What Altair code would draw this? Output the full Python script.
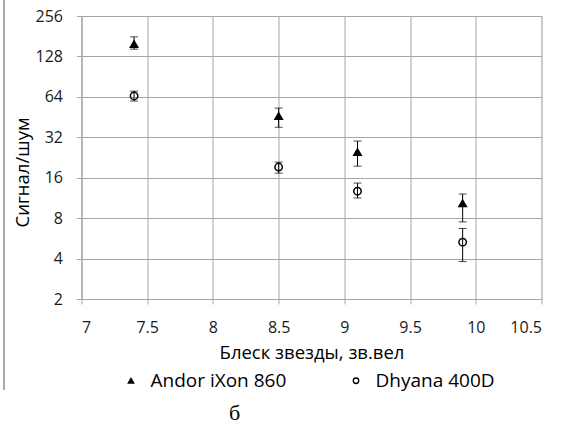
import altair as alt
import pandas as pd

# ---- data ----
series = ["Andor iXon 860", "Dhyana 400D"]
mag = [7.4, 8.5, 9.1, 9.9]
andor_snr = [158, 46, 24.8, 10.3]
andor_lo = [145, 38, 19.5, 7.5]
andor_hi = [179, 52.8, 30.0, 12.1]
dhyana_snr = [65, 19.2, 12.7, 5.3]
dhyana_lo = [59.6, 17.3, 11.3, 3.8]
dhyana_hi = [70.6, 20.9, 14.6, 6.7]
x_ticks = [7, 7.5, 8, 8.5, 9, 9.5, 10, 10.5]
y_ticks = [2, 4, 8, 16, 32, 64, 128, 256]
x_title = "Блеск звезды, зв.вел"
y_title = "Сигнал/шум"
caption = "б"

rows = []
for name, v, lo, hi in [(series[0], andor_snr, andor_lo, andor_hi),
                        (series[1], dhyana_snr, dhyana_lo, dhyana_hi)]:
    for m, a, b, c in zip(mag, v, lo, hi):
        rows.append({"series": name, "mag": m, "snr": a, "lo": b, "hi": c})
df = pd.DataFrame(rows)

FONT = "Open Sans"
TXT = "#1a1a1a"
GRID = "#a6a6a6"

xs = alt.Scale(domain=[7, 10.5], nice=False, zero=False)
ys = alt.Scale(type="log", base=2, domain=[2, 256], nice=False)


def legend():
    return alt.Legend(title=None, orient="none", direction="horizontal",
                      legendX=40, legendY=355, columnPadding=60,
                      labelFont=FONT, labelFontSize=19, labelColor="black",
                      symbolSize=30, symbolStrokeWidth=1.3, labelOffset=10)


base = alt.Chart(df)

points = base.mark_point(size=55, strokeWidth=1.5, opacity=1).encode(
    x=alt.X("mag:Q", scale=xs,
            axis=alt.Axis(values=x_ticks, format=".1~f", title=x_title,
                          grid=True, gridColor=GRID, domainColor=GRID,
                          tickColor=GRID, tickSize=5, labelPadding=15,
                          labelFontSize=16, labelColor=TXT, labelFont=FONT,
                          titleFont=FONT, titleFontSize=18.5, titleColor="black",
                          titleFontWeight="normal", titlePadding=8)),
    y=alt.Y("snr:Q", scale=ys,
            axis=alt.Axis(values=y_ticks, format="d", title=y_title,
                          grid=True, gridColor=GRID, domainColor=GRID,
                          tickColor=GRID, tickSize=5, labelPadding=14,
                          labelFontSize=16, labelColor=TXT, labelFont=FONT,
                          titleFont=FONT, titleFontSize=18.5, titleColor="black",
                          titleFontWeight="normal", titleX=-53, titleY=156,
                          titleBaseline="alphabetic", titleAlign="center", titleAngle=270)),
    shape=alt.Shape("series:N", scale=alt.Scale(domain=series, range=["triangle-up", "circle"]),
                    legend=legend()),
    fill=alt.Fill("series:N", scale=alt.Scale(domain=series, range=["black", "transparent"]),
                  legend=legend()),
    stroke=alt.Stroke("series:N", scale=alt.Scale(domain=series, range=["black", "black"]),
                      legend=legend()),
)

bars = base.mark_rule(color="black", strokeWidth=1).encode(
    x=alt.X("mag:Q", scale=xs), y=alt.Y("lo:Q", scale=ys), y2="hi:Q")
cap_lo = base.mark_tick(color="black", orient="horizontal", size=8, thickness=1).encode(
    x=alt.X("mag:Q", scale=xs), y=alt.Y("lo:Q", scale=ys))
cap_hi = base.mark_tick(color="black", orient="horizontal", size=8, thickness=1).encode(
    x=alt.X("mag:Q", scale=xs), y=alt.Y("hi:Q", scale=ys))

border = alt.Chart(pd.DataFrame({"a": [0]})).mark_rule(color="#8c8c8c", strokeWidth=1.5).encode(
    x=alt.value(-77.5), y=alt.value(-16), y2=alt.value(374))

cap_text = alt.Chart(pd.DataFrame({"t": [caption]})).mark_text(
    font="Liberation Serif", fontSize=22, color="black", baseline="middle", align="center"
).encode(text="t:N", x=alt.value(153), y=alt.value(397))

chart = alt.layer(bars, cap_lo, cap_hi, points, border, cap_text).properties(
    width=460, height=283,
    autosize=alt.AutoSizeParams(type="none"),
    padding={"left": 81.5, "top": 16, "right": 26.5, "bottom": 125},
).configure_view(stroke=None).configure(background="white")

chart.save("out.html", embed_options={"renderer": "svg", "actions": False})
